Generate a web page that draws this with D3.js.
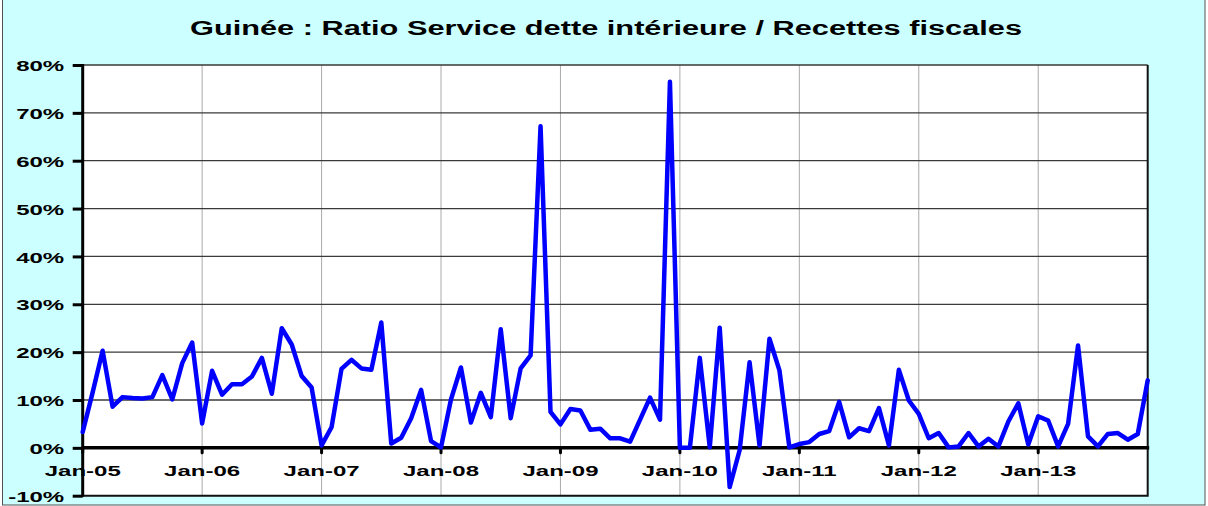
<!DOCTYPE html>
<html>
<head>
<meta charset="utf-8">
<script src="https://cdn.jsdelivr.net/npm/d3@7"></script>
<style>
  html, body { margin: 0; padding: 0; background: #ffffff; }
  svg { display: block; font-family: "Liberation Sans", Arial, sans-serif; }
</style>
</head>
<body>
<svg id="chart"></svg>
<script>
const chartTitle = "Guinée : Ratio Service dette intérieure / Recettes fiscales";

// one label per January, one value per month (Jan-05 .. Dec-13), in %
const tickLabels = ["Jan-05", "Jan-06", "Jan-07", "Jan-08", "Jan-09", "Jan-10", "Jan-11", "Jan-12", "Jan-13"];
const yTicks = [-10, 0, 10, 20, 30, 40, 50, 60, 70, 80];

const values2005 = [3.3, 11.6, 20.3, 8.6, 10.6, 10.4, 10.3, 10.6, 15.2, 10.1, 17.7, 22.0];
const values2006 = [5.1, 16.1, 11.1, 13.3, 13.3, 14.9, 18.8, 11.3, 25.0, 21.6, 15.0, 12.6];
const values2007 = [0.5, 4.3, 16.5, 18.4, 16.6, 16.3, 26.2, 0.9, 2.1, 6.2, 12.1, 1.4];
const values2008 = [0.1, 10.1, 16.8, 5.3, 11.5, 6.4, 24.8, 6.2, 16.6, 19.3, 67.2, 7.5];
const values2009 = [4.9, 8.1, 7.8, 3.8, 4.0, 2.0, 2.0, 1.3, 5.9, 10.5, 5.9, 76.5];
const values2010 = [0.0, 0.0, 18.8, 0.1, 25.1, -8.2, -0.5, 17.9, 0.5, 22.8, 16.2, 0.1];
const values2011 = [0.8, 1.2, 2.9, 3.5, 9.6, 2.2, 4.1, 3.5, 8.3, 0.5, 16.3, 9.9];
const values2012 = [7.1, 2.0, 3.1, 0.1, 0.3, 3.1, 0.3, 1.9, 0.3, 5.5, 9.3, 0.7];
const values2013 = [6.6, 5.7, 0.3, 5.0, 21.4, 2.4, 0.3, 2.9, 3.1, 1.7, 2.9, 14.1];

const ratioValues = [].concat(values2005, values2006, values2007, values2008, values2009,
  values2010, values2011, values2012, values2013);

const svgSize = { width: 1208, height: 506 };
const plot = { left: 82.7, right: 1147.7, top: 65, bottom: 495.7 };
const textStretch = 1.55;

const svg = d3.select("#chart")
  .attr("width", svgSize.width)
  .attr("height", svgSize.height);

const xLine = d3.scaleLinear()
  .domain([0, ratioValues.length - 1])
  .range([plot.left, plot.right]);

const yLine = d3.scaleLinear()
  .domain([-10, 80])
  .range([plot.bottom, plot.top]);

drawBackground();
drawTitle();
drawGrid();
drawAxes();
drawLine();

function drawBackground() {
  svg.append("rect")
    .attr("x", 2.5).attr("y", -2)
    .attr("width", 1202.5).attr("height", 507)
    .attr("fill", "#ccffff")
    .attr("stroke", "#505050")
    .attr("stroke-width", 1);

  svg.append("rect")
    .attr("x", plot.left).attr("y", plot.top)
    .attr("width", plot.right - plot.left)
    .attr("height", plot.bottom - plot.top)
    .attr("fill", "#ffffff");
}

function drawTitle() {
  svg.append("text")
    .attr("x", 606)
    .attr("y", 35)
    .attr("text-anchor", "middle")
    .attr("font-size", 19.5)
    .attr("font-weight", "bold")
    .attr("textLength", 832)
    .attr("lengthAdjust", "spacingAndGlyphs")
    .attr("fill", "#000")
    .text(chartTitle);
}

function drawGrid() {
  // light vertical lines at every January
  svg.append("g")
    .selectAll("line")
    .data(tickLabels)
    .join("line")
    .attr("x1", (d, i) => xLine(i * 12))
    .attr("x2", (d, i) => xLine(i * 12))
    .attr("y1", plot.top)
    .attr("y2", plot.bottom)
    .attr("stroke", "#aaaaaa")
    .attr("stroke-width", 1);

  svg.append("g")
    .selectAll("line")
    .data(yTicks.filter(t => t !== 0 && t !== -10))
    .join("line")
    .attr("x1", plot.left)
    .attr("x2", plot.right)
    .attr("y1", d => yLine(d))
    .attr("y2", d => yLine(d))
    .attr("stroke", "#3a3a3a")
    .attr("stroke-width", 1.3);

  // right and bottom frame
  svg.append("path")
    .attr("d", `M${plot.right},${plot.top}V${plot.bottom}H${plot.left}`)
    .attr("fill", "none")
    .attr("stroke", "#111")
    .attr("stroke-width", 2);
}

function drawAxes() {
  const yAxis = d3.axisLeft(yLine)
    .tickValues(yTicks)
    .tickSize(10)
    .tickFormat(d => `${d}%`);

  const yAxisGroup = svg.append("g")
    .attr("transform", `translate(${plot.left}, 0)`)
    .call(yAxis);

  yAxisGroup.select(".domain").remove();
  yAxisGroup.selectAll(".tick line")
    .attr("stroke", "#000")
    .attr("stroke-width", 3);
  yAxisGroup.selectAll(".tick text")
    .attr("x", 0)
    .attr("dy", "0.36em")
    .attr("transform", `translate(-18.5, 0) scale(${textStretch}, 1)`)
    .attr("font-size", 15.5)
    .attr("font-weight", "bold")
    .attr("font-family", "'Liberation Sans', Arial, sans-serif")
    .attr("fill", "#000");

  svg.append("line")
    .attr("x1", plot.left).attr("x2", plot.left)
    .attr("y1", plot.top - 1).attr("y2", plot.bottom + 1)
    .attr("stroke", "#000")
    .attr("stroke-width", 3);

  // small tick marks under the zero line
  svg.append("g")
    .selectAll("line")
    .data(tickLabels)
    .join("line")
    .attr("x1", (d, i) => xLine(i * 12))
    .attr("x2", (d, i) => xLine(i * 12))
    .attr("y1", yLine(0))
    .attr("y2", yLine(0) + 5)
    .attr("stroke", "#000")
    .attr("stroke-width", 3)
    .attr("stroke-linecap", "round");

  svg.append("line")
    .attr("x1", plot.left).attr("x2", plot.right + 1.5)
    .attr("y1", yLine(0)).attr("y2", yLine(0))
    .attr("stroke", "#000")
    .attr("stroke-width", 3.5);

  svg.append("g")
    .selectAll("text")
    .data(tickLabels)
    .join("text")
    .attr("transform", (d, i) => `translate(${xLine(i * 12)}, 476) scale(${textStretch}, 1)`)
    .attr("text-anchor", "middle")
    .attr("font-size", 15.5)
    .attr("font-weight", "bold")
    .attr("fill", "#000")
    .text(d => d);
}

function drawLine() {
  const line = d3.line()
    .x((d, i) => xLine(i))
    .y(d => yLine(d))
    .curve(d3.curveLinear);

  svg.append("path")
    .datum(ratioValues)
    .attr("fill", "none")
    .attr("stroke", "#0000ff")
    .attr("stroke-width", 4.5)
    .attr("stroke-linejoin", "round")
    .attr("stroke-linecap", "round")
    .attr("d", line);
}
</script>
</body>
</html>
